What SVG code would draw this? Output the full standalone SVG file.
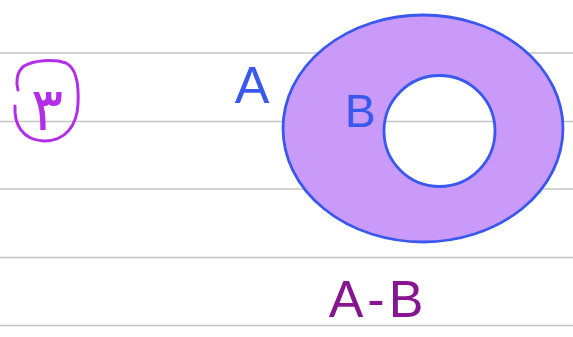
<svg xmlns="http://www.w3.org/2000/svg" width="573" height="337" viewBox="0 0 573 337">
<style>
.rule{stroke:#c4c4c4;stroke-width:1.3}
.blue{fill:none;stroke:#3858ee;stroke-width:2.8}
.hand{font-family:"Liberation Sans","DejaVu Sans",sans-serif}
</style>
<rect width="573" height="337" fill="#ffffff"/>
<g id="paper">
<line class="rule" x1="0" y1="53" x2="573" y2="53"/>
<line class="rule" x1="0" y1="121.5" x2="573" y2="121.5"/>
<line class="rule" x1="0" y1="189" x2="573" y2="189"/>
<line class="rule" x1="0" y1="257.5" x2="573" y2="257.5"/>
<line class="rule" x1="0" y1="325.5" x2="573" y2="325.5"/>
</g>
<g id="number">
<path d="M15,106 C14,124 22,140 44,141 C66,141 77,125 78,104 C79,84 76,68 66,63 C54,59 34,60 24,66 C16,72 16,84 18,90" fill="none" stroke="#b22ee8" stroke-width="3" stroke-linecap="round"/>
<text x="47" y="130" text-anchor="middle" font-family="DejaVu Sans, sans-serif" font-size="60" fill="#b22ee8">٣</text>
</g>
<g id="setA">
<path fill="#c99af9" fill-rule="evenodd" stroke="none" d="M283,128.5 A140,113.5 0 1,0 563,128.5 A140,113.5 0 1,0 283,128.5 Z M383.5,131 A56,55 0 1,0 495.5,131 A56,55 0 1,0 383.5,131 Z"/>
<ellipse class="blue" cx="423" cy="128.5" rx="140" ry="113.5"/>
<text class="hand" x="252" y="103" text-anchor="middle" font-size="52" fill="#3858ee">A</text>
</g>
<g id="setB">
<circle class="blue" cx="439.5" cy="131" r="55.5"/>
<text class="hand" x="360" y="127" text-anchor="middle" font-size="46" fill="#3858ee">B</text>
</g>
<g id="label">
<text class="hand" x="378" y="317" text-anchor="middle" font-size="52" letter-spacing="4" fill="#86168f">A-B</text>
</g>
</svg>
